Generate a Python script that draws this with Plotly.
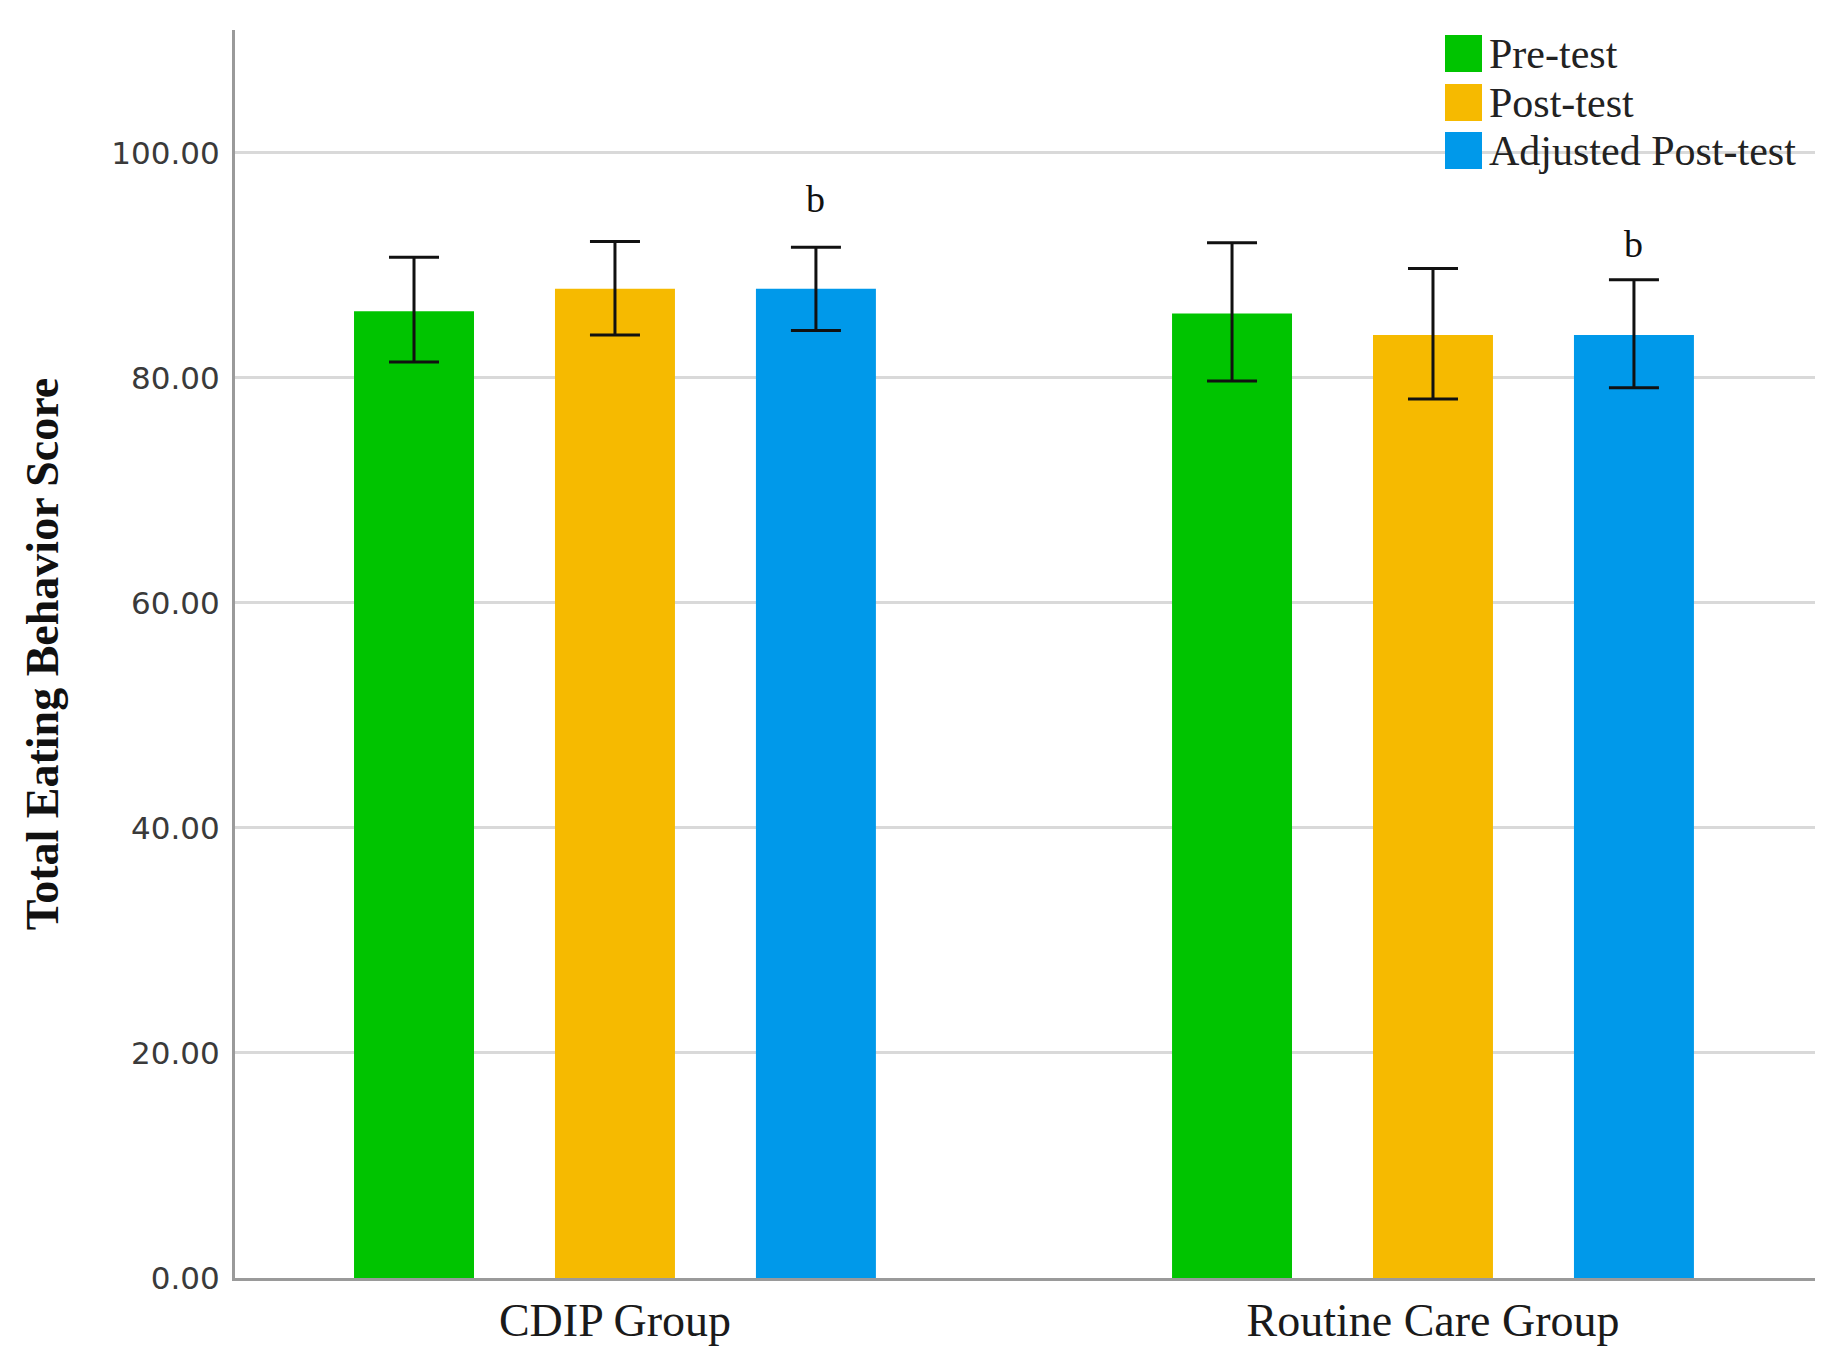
import plotly.graph_objects as go

groups = ["CDIP Group", "Routine Care Group"]
series = ["Pre-test", "Post-test", "Adjusted Post-test"]
colors = ["#00C400", "#F6BA00", "#0099EA"]
means = {
    "Pre-test": [85.9, 85.7],
    "Post-test": [87.9, 83.8],
    "Adjusted Post-test": [87.9, 83.8],
}
err_upper = {
    "Pre-test": [90.7, 92.0],
    "Post-test": [92.1, 89.7],
    "Adjusted Post-test": [91.6, 88.7],
}
err_lower = {
    "Pre-test": [81.4, 79.7],
    "Post-test": [83.8, 78.1],
    "Adjusted Post-test": [84.2, 79.1],
}
sig_labels = ["b", "b"]
sig_y = [95.9, 91.9]
y_ticks = [0, 20, 40, 60, 80, 100]

BARGAP = 0.263
BARGROUPGAP = 0.403
xpos = list(range(len(groups)))

fig = go.Figure()
for name, col in zip(series, colors):
    m = means[name]
    up = [u - v for u, v in zip(err_upper[name], m)]
    lo = [v - l for l, v in zip(err_lower[name], m)]
    fig.add_trace(go.Bar(
        x=xpos, y=m, name=name, marker=dict(color=col, line=dict(width=0)),
        error_y=dict(type="data", array=up, arrayminus=lo, symmetric=False,
                     color="#111111", thickness=3, width=25),
        showlegend=False,
    ))

slot = (1 - BARGAP) / len(series)
for i, (t, yv) in enumerate(zip(sig_labels, sig_y)):
    fig.add_annotation(x=xpos[i] + slot, y=yv, xref="x", yref="y", text=t,
                       showarrow=False,
                       font=dict(family="Liberation Serif", size=38, color="#111111"))

# page has an 8px body margin; target screen positions below are page pixels
OFF = 8
L, R, T, B = 235 - OFF, 1815 - OFF, 30 - OFF, 1278 - OFF
W, H = R - L, B - T
def px(xp): return (xp - OFF - L) / W
def py(yp): return (B - (yp - OFF)) / H
row_top = [35, 84, 132]
for name, col, top in zip(series, colors, row_top):
    fig.add_shape(type="rect", xref="paper", yref="paper",
                  x0=px(1445), x1=px(1482), y0=py(top + 37), y1=py(top),
                  fillcolor=col, line=dict(width=0))
    fig.add_annotation(xref="paper", yref="paper", x=px(1487), y=py(top + 19),
                       xanchor="left", yanchor="middle", text=name, showarrow=False,
                       font=dict(family="Liberation Serif", size=42, color="#222222"))

fig.update_layout(
    width=1844, height=1369,
    margin=dict(l=L, r=1844 - R, t=T, b=1369 - B),
    paper_bgcolor="white", plot_bgcolor="white",
    barmode="group", bargap=BARGAP, bargroupgap=BARGROUPGAP,
    xaxis=dict(range=[-0.4645, 1.467], tickvals=xpos, ticktext=groups,
               showgrid=False, zeroline=False, showline=True, linecolor="#9a9a9a",
               linewidth=3, ticks="", ticklabelstandoff=0,
               tickfont=dict(family="Liberation Serif", size=46, color="#1a1a1a")),
    yaxis=dict(range=[0, 110.9], tickvals=y_ticks, tickformat=".2f",
               showgrid=True, gridcolor="#d9d9d9", gridwidth=3,
               zeroline=False, showline=True, linecolor="#9a9a9a", linewidth=3,
               ticks="", ticklabelstandoff=6,
               tickfont=dict(family="DejaVu Sans", size=31, color="#3a3a3a"),
               title=dict(text="<b>Total Eating Behavior Score</b>", standoff=39,
                          font=dict(family="Liberation Serif", size=46, color="#111111"))),
)

fig.write_html("out.html")
